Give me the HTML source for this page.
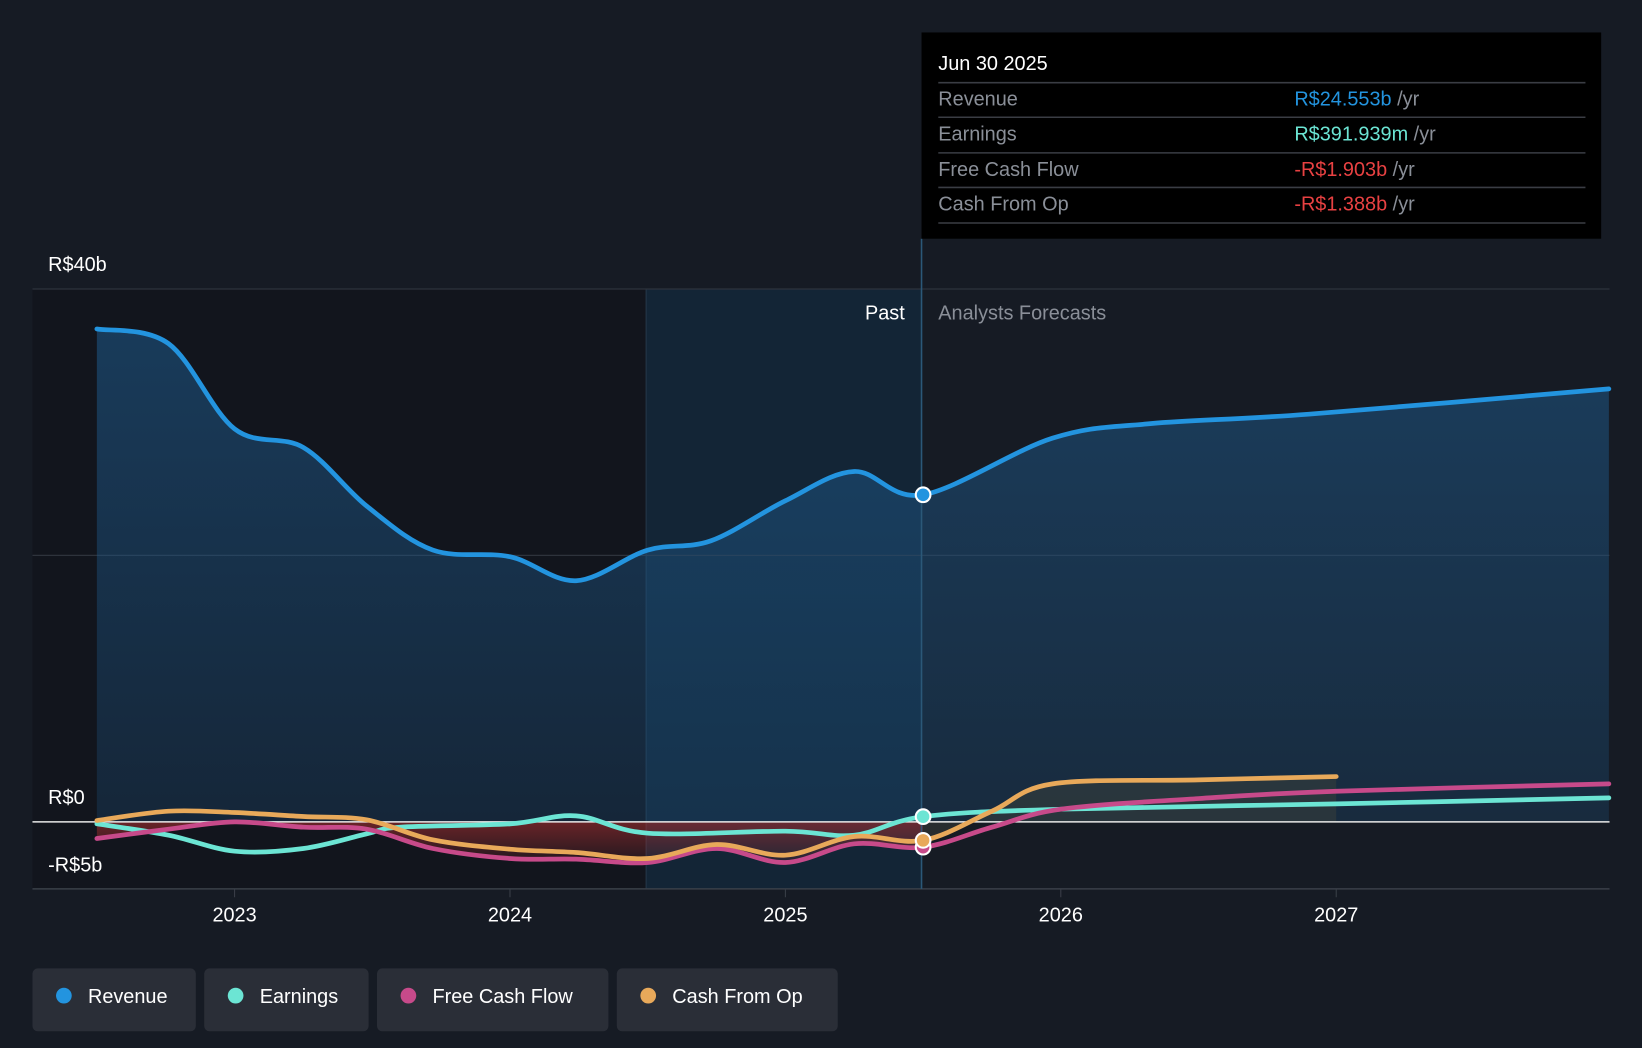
<!DOCTYPE html>
<html><head><meta charset="utf-8"><style>
html,body{margin:0;padding:0;background:#161b24;}
svg{display:block;font-family:"Liberation Sans",sans-serif;}
</style></head><body>
<svg id="c" width="1642" height="1048" viewBox="0 0 1568 1001" preserveAspectRatio="none">
<defs>
<linearGradient id="revg" x1="0" y1="0" x2="0" y2="1"><stop offset="0" stop-color="#1e5a8c" stop-opacity="0.55"/><stop offset="1" stop-color="#1e5a8c" stop-opacity="0.25"/></linearGradient>
<linearGradient id="negg" x1="0" y1="0" x2="0" y2="1"><stop offset="0" stop-color="#b03030" stop-opacity="0.55"/><stop offset="1" stop-color="#b03030" stop-opacity="0.1"/></linearGradient>
</defs>
<rect x="0" y="0" width="1568" height="1001" fill="#161b24"/>
<rect x="31" y="276" width="586" height="573" fill="#12151d"/>
<rect x="617" y="276" width="263" height="573" fill="#13283b" opacity="0.8"/>
<line x1="617" y1="276" x2="617" y2="849" stroke="#24384a"/>
<g id="grid"></g>
<g id="areas"></g>
<g id="lines"></g>
<line x1="880" y1="228" x2="880" y2="849" stroke="#2b5878" stroke-width="1.5"/>
<text x="864" y="305" fill="#ffffff" font-size="19" text-anchor="end">Past</text>
<text x="896" y="305" fill="#8a8f98" font-size="19">Analysts Forecasts</text>
<g id="dots"></g>
<g id="xaxis"></g>
<g>
<rect x="880" y="31" width="649" height="197" fill="#000"/>
<text x="896" y="67" fill="#fff" font-size="19">Jun 30 2025</text>
<g stroke="#3a3d44" stroke-width="1.5"><line x1="896" y1="79" x2="1514" y2="79"/><line x1="896" y1="112" x2="1514" y2="112"/><line x1="896" y1="146" x2="1514" y2="146"/><line x1="896" y1="179" x2="1514" y2="179"/><line x1="896" y1="213" x2="1514" y2="213"/></g>
<g font-size="19" fill="#8a8f98">
<text x="896" y="101">Revenue</text><text x="896" y="134">Earnings</text><text x="896" y="168">Free Cash Flow</text><text x="896" y="201">Cash From Op</text>
</g>
<g font-size="19">
<text x="1236" y="101"><tspan fill="#2394df">R$24.553b</tspan><tspan fill="#8a8f98"> /yr</tspan></text>
<text x="1236" y="134"><tspan fill="#6ce5d4">R$391.939m</tspan><tspan fill="#8a8f98"> /yr</tspan></text>
<text x="1236" y="168"><tspan fill="#e84142">-R$1.903b</tspan><tspan fill="#8a8f98"> /yr</tspan></text>
<text x="1236" y="201"><tspan fill="#e84142">-R$1.388b</tspan><tspan fill="#8a8f98"> /yr</tspan></text>
</g>
</g>
<g id="legend"></g>
</svg>
<script>
const years=[2023,2024,2025,2026,2027];
const yTicks=[40,20,0,-5];
const yTickLabels={"40":"R$40b","0":"R$0","-5":"-R$5b"};
const revT=[2022.5,2022.76,2023.0,2023.25,2023.48,2023.72,2024.0,2024.24,2024.5,2024.73,2025.0,2025.25,2025.5,2025.97,2026.33,2026.9,2027.99];
const revV=[37.0,35.9,29.5,28.1,23.7,20.4,19.9,18.1,20.4,21.1,24.1,26.3,24.55,28.8,29.9,30.6,32.5];
const earnT=[2022.5,2022.76,2023.0,2023.25,2023.48,2023.6,2024.0,2024.24,2024.5,2025.0,2025.25,2025.5,2026.0,2027.0,2027.99];
const earnV=[-0.15,-1.0,-2.2,-2.0,-0.9,-0.4,-0.15,0.45,-0.85,-0.7,-1.0,0.39,0.95,1.35,1.8];
const fcfT=[2022.5,2022.76,2023.0,2023.25,2023.48,2023.72,2024.0,2024.24,2024.5,2024.75,2025.0,2025.25,2025.5,2025.75,2026.0,2026.5,2027.0,2027.99];
const fcfV=[-1.25,-0.55,0,-0.4,-0.55,-2.0,-2.75,-2.8,-3.05,-2.0,-3.05,-1.65,-1.9,-0.4,0.95,1.75,2.3,2.85];
const cfoT=[2022.5,2022.76,2023.0,2023.25,2023.48,2023.72,2024.0,2024.24,2024.5,2024.75,2025.0,2025.25,2025.5,2025.75,2025.97,2026.5,2027.0];
const cfoV=[0.1,0.8,0.7,0.4,0.15,-1.35,-2.05,-2.3,-2.75,-1.7,-2.5,-1.1,-1.39,0.8,2.85,3.15,3.4];
const NOW=2025.5;
const NS='http://www.w3.org/2000/svg';
const X=t=>224+(t-2023)*263;
const Y=v=>785-v*12.725;
function mk(tag,attrs,parent){const e=document.createElementNS(NS,tag);for(const k in attrs)e.setAttribute(k,attrs[k]);parent.appendChild(e);return e;}
function path(T,V){const p=T.map((t,i)=>[X(t),Y(V[i])]);let d='M'+p[0][0]+','+p[0][1];
for(let i=0;i<p.length-1;i++){const p0=p[Math.max(0,i-1)],p1=p[i],p2=p[i+1],p3=p[Math.min(p.length-1,i+2)];
const c1x=p1[0]+(p2[0]-p0[0])/6,c1y=p1[1]+(p2[1]-p0[1])/6,c2x=p2[0]-(p3[0]-p1[0])/6,c2y=p2[1]-(p3[1]-p1[1])/6;
d+=` C${c1x},${c1y} ${c2x},${c2y} ${p2[0]},${p2[1]}`;}return d;}
function interp(T,V,t){for(let i=0;i<T.length-1;i++){if(t>=T[i]&&t<=T[i+1]){return V[i]+(V[i+1]-V[i])*(t-T[i])/(T[i+1]-T[i]);}}return V[V.length-1];}
const grid=document.getElementById('grid');
yTicks.forEach(v=>{
 if(v!==-5&&v!==0){const l=mk('line',{x1:31,x2:1537,y1:Y(v),y2:Y(v),stroke:'#2e333c','stroke-width':1.2},grid);
 
 }
 if(yTickLabels[v]){const ly=v===-5?Y(v)-16:Y(v)-17;
 const tx=mk('text',{x:46,y:ly,fill:'#fff','font-size':19},grid);tx.textContent=yTickLabels[v];
 
 }
});
const areas=document.getElementById('areas'),lines=document.getElementById('lines');
const rd=path(revT,revV);
const ra=mk('path',{d:rd+` L${X(revT[revT.length-1])},${Y(0)} L${X(revT[0])},${Y(0)} Z`,fill:'url(#revg)'},areas);


const na=mk('path',{d:path(fcfT.slice(0,13),fcfV.slice(0,13))+` L${X(NOW)},${Y(0)} L${X(2022.5)},${Y(0)} Z`,fill:'url(#negg)'},areas);


const ca=mk('path',{d:path(cfoT.slice(12),cfoV.slice(12))+` L${X(cfoT[cfoT.length-1])},${Y(0)} L${X(NOW)},${Y(0)} Z`,fill:'#3a3f3a',opacity:0.5},areas);


const zl=mk('line',{x1:31,x2:1537,y1:Y(0),y2:Y(0),stroke:'#e8e8e8','stroke-width':1.5},areas);


const bl=mk('line',{x1:31,x2:1537,y1:849,y2:849,stroke:'#3a3f48','stroke-width':1.5},areas);


const series=[['earnings',earnT,earnV,'#6ce5d4'],['free-cash-flow',fcfT,fcfV,'#c74a8a'],['cash-from-op',cfoT,cfoV,'#e8a95a'],['revenue',revT,revV,'#2394df']];
series.forEach(s=>{const p=mk('path',{d:path(s[1],s[2]),fill:'none',stroke:s[3],'stroke-width':4.5,'stroke-linecap':'round'},lines);
 
 });
const dots=document.getElementById('dots');
[['revenue',revT,revV,'#2394df'],['free-cash-flow',fcfT,fcfV,'#c74a8a'],['earnings',earnT,earnV,'#6ce5d4'],['cash-from-op',cfoT,cfoV,'#e8a95a']].forEach(s=>{
 const c=mk('circle',{cx:X(NOW),cy:Y(interp(s[1],s[2],NOW)),r:7,fill:s[3],stroke:'#fff','stroke-width':2},dots);
 
 });
const xa=document.getElementById('xaxis');
years.forEach(y=>{const l=mk('line',{x1:X(y),x2:X(y),y1:849,y2:857,stroke:'#3a3f48'},xa);
 
 
 const t=mk('text',{x:X(y),y:880,fill:'#fff','font-size':19,'text-anchor':'middle'},xa);t.textContent=y;
 
 });
const lg=document.getElementById('legend');
const legNames=['Revenue','Earnings','Free Cash Flow','Cash From Op'];
const legCols=['#2394df','#6ce5d4','#c74a8a','#e8a95a'];
const legW=[156,157,221,211];
let lx=31;
legNames.forEach((n,i)=>{const g=mk('g',{},lg);
 
 
 mk('rect',{x:lx,y:925,width:legW[i],height:60,rx:5,fill:'#2a2e37'},g);
 mk('circle',{cx:lx+30,cy:951,r:7.5,fill:legCols[i]},g);
 const t=mk('text',{x:lx+53,y:958,fill:'#fff','font-size':19},g);t.textContent=n;
 lx+=legW[i]+8;});
</script>
</body></html>
